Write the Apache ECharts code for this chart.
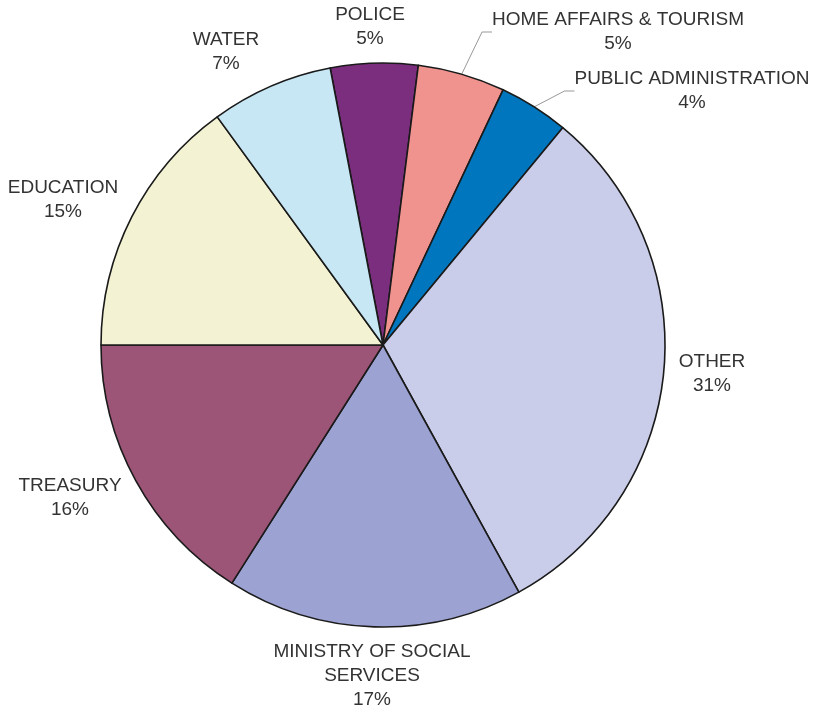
<!DOCTYPE html>
<html>
<head>
<meta charset="utf-8">
<script src="https://cdn.jsdelivr.net/npm/echarts@6/dist/echarts.min.js"></script>
<style>html,body{margin:0;padding:0;background:#fff;}#c{width:820px;height:709px;}</style>
</head>
<body>
<div id="c"></div>
<script>
const categories = ["POLICE", "HOME AFFAIRS & TOURISM", "PUBLIC ADMINISTRATION", "OTHER", "MINISTRY OF SOCIAL\nSERVICES", "TREASURY", "EDUCATION", "WATER"];
const values = [5, 5, 4, 31, 17, 16, 15, 7];
const colors = ["#7B2E7E", "#F0938F", "#0076BF", "#C9CDE9", "#9CA2D2", "#9D5577", "#F3F3D3", "#C7E7F4"];
const withLine = [false, true, true, false, false, false, false, false];

// label block centres (layout only)
const labelPos = [[370, 27], [618, 32], [692, 91], [712, 374], [372, 676], [70, 498], [63, 200], [226, 52]];

const chart = echarts.init(document.getElementById('c'), null, {renderer: 'canvas'});
chart.setOption({
  animation: false,
  backgroundColor: '#fff',
  series: [{
    type: 'pie',
    center: [383, 345],
    radius: [0, 282],
    startAngle: 100.8,
    clockwise: true,
    avoidLabelOverlap: false,
    itemStyle: {borderColor: '#1a1a1a', borderWidth: 1.6},
    label: {
      show: true,
      position: 'outside',
      formatter: '{b}\n{c}%',
      fontFamily: 'Liberation Sans, Arial, sans-serif',
      fontSize: 19,
      lineHeight: 24,
      color: '#333',
      align: 'center'
    },
    labelLine: {show: false, length: 10, length2: 10, lineStyle: {color: '#999', width: 1}},
    labelLayout: function (p) {
      const pos = labelPos[p.dataIndex];
      return {x: pos[0], y: pos[1], align: 'center', verticalAlign: 'middle'};
    },
    emphasis: {disabled: true},
    data: categories.map((n, i) => ({
      name: n,
      value: values[i],
      itemStyle: {color: colors[i]},
      labelLine: {show: withLine[i]}
    }))
  }]
});
</script>
</body>
</html>
